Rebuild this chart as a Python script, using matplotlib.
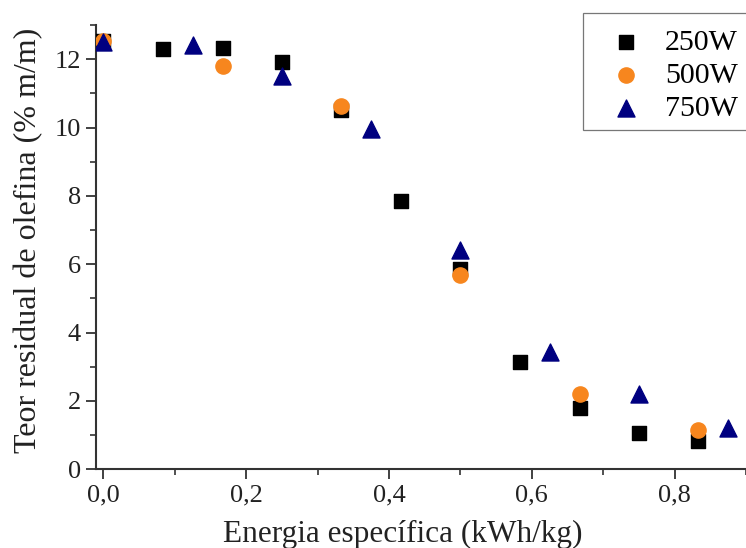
import matplotlib

matplotlib.use("Agg")
import matplotlib.pyplot as plt
from matplotlib.patches import Rectangle
from matplotlib.ticker import FuncFormatter, MultipleLocator

# energia especifica (kWh/kg) and teor residual de olefina (% m/m)
x_250 = [0.0, 0.083, 0.167, 0.25, 0.333, 0.417, 0.5, 0.583, 0.667, 0.75, 0.833]
y_250 = [12.55, 12.31, 12.33, 11.92, 10.52, 7.84, 5.85, 3.13, 1.79, 1.07, 0.81]

x_500 = [0.0, 0.167, 0.333, 0.5, 0.667, 0.833]
y_500 = [12.55, 11.8, 10.63, 5.68, 2.2, 1.14]

x_750 = [0.0, 0.125, 0.25, 0.375, 0.5, 0.625, 0.75, 0.875]
y_750 = [12.52, 12.43, 11.5, 9.95, 6.43, 3.42, 2.2, 1.2]

plt.rcParams["font.family"] = ["Liberation Serif", "DejaVu Serif"]

fig = plt.figure(figsize=(7.46, 5.48), dpi=100)
ax = fig.add_axes([0.129, 0.144, 0.871, 0.81])

ax.scatter(x_250, y_250, marker="s", s=110, color="black", label="250W", zorder=3)
ax.scatter(x_500, y_500, marker="o", s=120, color="#F7861E", label="500W", zorder=4)
ax.scatter(x_750, y_750, marker="^", s=150, color="#000080", label="750W", zorder=5)

ax.set_xlim(-0.01, 0.9)
ax.set_ylim(0, 13)
ax.xaxis.set_major_locator(MultipleLocator(0.2))
ax.xaxis.set_minor_locator(MultipleLocator(0.1))
ax.yaxis.set_major_locator(MultipleLocator(2))
ax.yaxis.set_minor_locator(MultipleLocator(1))
ax.xaxis.set_major_formatter(FuncFormatter(lambda v, _: f"{v:.1f}".replace(".", ",")))

for side in ("top", "right"):
    ax.spines[side].set_visible(False)
for side in ("left", "bottom"):
    ax.spines[side].set_linewidth(1.5)
    ax.spines[side].set_color("#333333")

ax.tick_params(which="major", length=7, width=1.3, color="#333333", labelsize=19, labelcolor="#222222", pad=4)
ax.tick_params(which="minor", length=4, width=1.2, color="#333333")

ax.set_xlabel("Energia específica (kWh/kg)", fontsize=22.5, color="#222222")
ax.set_ylabel("Teor residual de olefina (% m/m)", fontsize=23, color="#222222")
ax.xaxis.set_label_coords(0.472, -0.115)
ax.yaxis.set_label_coords(-0.081, 0.515)

# legend box runs off the right edge in the original, so draw the frame by hand
ax.add_patch(Rectangle((583 / 746, 1 - 130 / 548), 0.3, 117 / 548,
                       transform=fig.transFigure, facecolor="white", clip_on=False,
                       edgecolor="#777777", linewidth=0.9, zorder=6))
leg = ax.legend(loc="upper left", bbox_to_anchor=(583 / 746, 1 - 14 / 548),
                bbox_transform=fig.transFigure, fontsize=21.5, frameon=False,
                borderpad=0.5, labelspacing=0.2, handletextpad=0.35,
                handlelength=1.9, borderaxespad=0)
leg.set_zorder(7)

fig.savefig("out.png", dpi=100)
